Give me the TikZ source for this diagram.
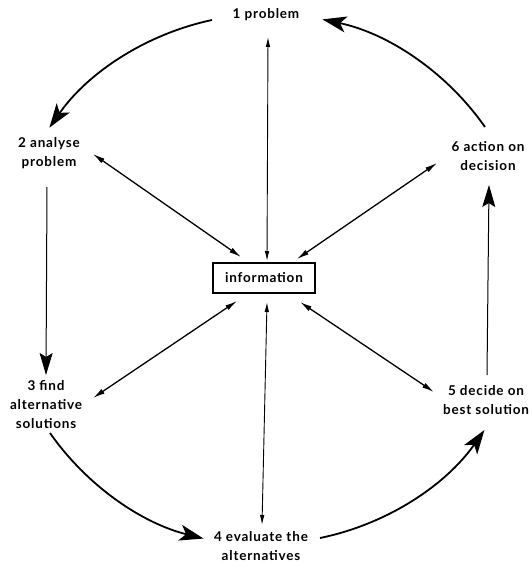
\documentclass[tikz,border=0pt]{standalone}
\usepackage{fontspec}
\newfontfamily\lab{Lato}[LetterSpace=6]
\usetikzlibrary{arrows.meta}
\tikzset{
 lbl/.style={font=\lab\bfseries\fontsize{13.5}{19}\selectfont, align=center, inner sep=0pt},
 infobox/.style={draw, line width=2.2pt, minimum width=102pt, minimum height=30pt, inner sep=0pt,
   font=\lab\bfseries\fontsize{13.5}{19}\selectfont},
 cyc/.style={line width=1.8pt, -{Stealth[length=24pt,width=16pt,inset=6pt]}},
 vcyc/.style={line width=1pt, -{Stealth[length=22pt,width=13pt,inset=4pt]}},
 link/.style={line width=1.3pt, {Latex[length=12pt,width=5.5pt]}-{Latex[length=12pt,width=5.5pt]}},
 vlink/.style={line width=0.9pt, {Latex[length=10pt,width=4.5pt]}-{Latex[length=10pt,width=4.5pt]}},
}
\begin{document}
\begin{tikzpicture}[x=1pt,y=1pt]
\fill[white] (0,0) rectangle (531,-563);
\useasboundingbox (0,0) rectangle (531,-563);

\node[lbl] (n1) at (266,-15) {1 problem};
\node[lbl] (n2) at (49,-153) {2 analyse\\problem};
\node[lbl] (n3) at (46,-405) {3 find\\alternative\\solutions};
\node[lbl] (n4) at (261,-546) {4 evaluate the\\alternatives};
\node[lbl] (n5) at (486,-400) {5 decide on\\best solution};
\node[lbl] (n6) at (488,-156) {6 action on\\decision};
\node[infobox] (info) at (264,-278) {information};

% cycle arcs
\draw[cyc] ([shift={(-54,-5)}]n1.center) arc[start angle=102, end angle=145, radius=266];
\draw[cyc] ([shift={(4,-28)}]n3.center) arc[start angle=215, end angle=256, radius=266];
\draw[cyc] ([shift={(59,8)}]n4.center) arc[start angle=281.6, end angle=325, radius=266];
\draw[cyc] ([shift={(-3,29)}]n6.center) arc[start angle=35, end angle=78, radius=266];

% vertical cycle steps
\draw[vcyc] ([shift={(-2,-34)}]n2.center) -- ([shift={(0,30)}]n3.center);
\draw[vcyc] ([shift={(1,25)}]n5.center) -- ([shift={(1,-29)}]n6.center);

% links to information
\draw[link] ([shift={(44,-1)}]n2.center) -- ([shift={(-23,21)}]info.center);
\draw[link] ([shift={(-51,-7)}]n6.center) -- ([shift={(33,19)}]info.center);
\draw[link] ([shift={(47,7)}]n3.center) -- ([shift={(-27,-23)}]info.center);
\draw[link] ([shift={(-52,8)}]n5.center) -- ([shift={(36,-24)}]info.center);
\draw[vlink] ([shift={(2,-22)}]n1.center) -- ([shift={(3,17)}]info.center);
\draw[vlink] ([shift={(3,-24)}]info.center) -- ([shift={(1,21)}]n4.center);
\end{tikzpicture}
\end{document}
